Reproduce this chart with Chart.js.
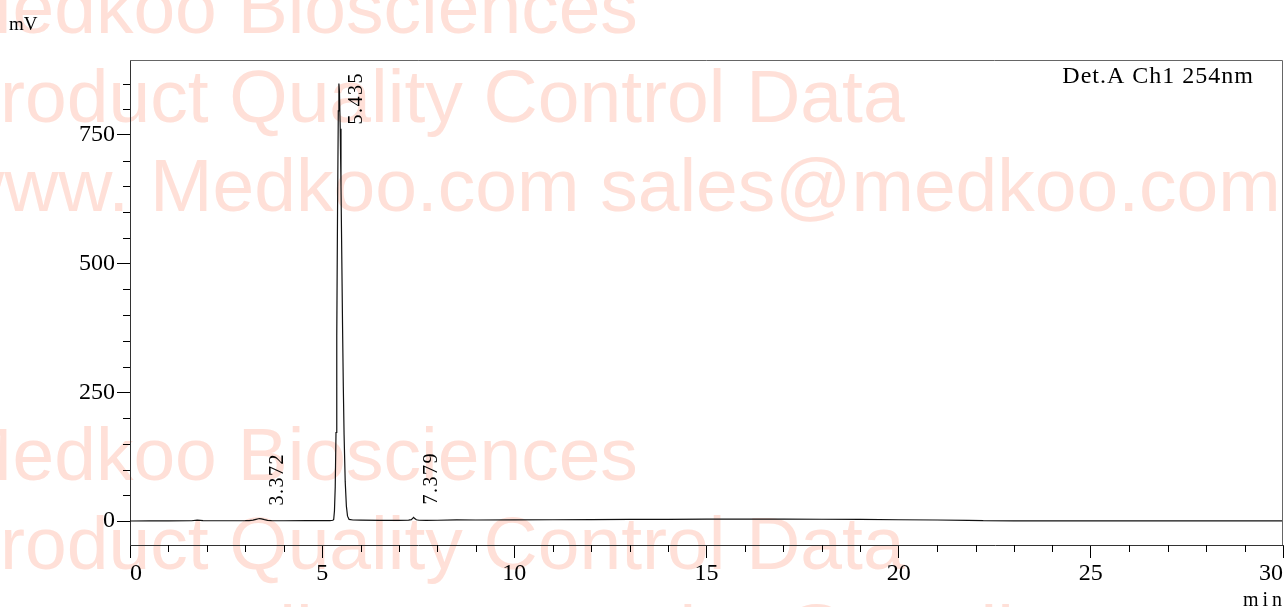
<!DOCTYPE html>
<html>
<head>
<meta charset="utf-8">
<title>Chromatogram</title>
<script src="https://cdn.jsdelivr.net/npm/chart.js@4.4.1/dist/chart.umd.min.js"></script>
<style>
html, body { margin: 0; padding: 0; background: #fff; overflow: hidden; }
canvas { display: block; }
</style>
</head>
<body>
<canvas id="chromChart" width="1285" height="607"></canvas>
<script>
// retention time (min) and detector signal (mV)
const timeMin = [
    0, 0.5, 1.0, 1.6, 1.75, 1.9, 2.5, 3.0,
    3.1, 3.2, 3.28, 3.34, 3.372, 3.42, 3.5, 3.58, 3.68,
    4.0, 4.6, 5.0, 5.2, 5.28, 5.30, 5.32, 5.34,
    5.36, 5.38, 5.40, 5.42, 5.435, 5.45, 5.47, 5.49,
    5.51, 5.53, 5.55, 5.57, 5.60, 5.63, 5.66, 5.70,
    5.80, 6.0, 6.5, 7.0,
    7.25, 7.32, 7.36, 7.379, 7.40, 7.45, 7.52, 7.7,
    8.0, 8.5, 9.0, 10, 11, 12, 13, 14,
    15, 16, 17, 18, 19, 20, 21, 21.8,
    22.2, 23, 25, 27, 30
];
const signalMv = [
    0, 0.2, 0.3, 0.5, 1.8, 0.6, 0.5, 0.6,
    0.9, 1.8, 3.3, 4.4, 4.8, 4.1, 2.6, 1.3, 0.7,
    0.5, 0.6, 0.7, 0.9, 1.5, 3, 20, 66,
    172, 360, 601, 797, 850, 833, 762, 650,
    516, 381, 262, 168, 76, 29, 9.4, 3.2,
    2.0, 1.6, 1.3, 1.3,
    1.6, 2.6, 5.6, 7, 5.4, 2.4, 1.5, 1.3,
    1.5, 2.2, 2.0, 2.2, 2.5, 2.8, 3.0, 3.3,
    3.5, 3.6, 3.6, 3.4, 3.0, 2.5, 2.0, 1.4,
    0.6, 0.4, 0.3, 0.3, 0.2
];

// labelled peaks (retention time, apex height)
const peakTimes = [3.372, 5.435, 7.379];
const peakHeights = [4.8, 850, 7];

const xTickValues = [0, 5, 10, 15, 20, 25, 30];
const yTickValues = [0, 250, 500, 750];

const watermarkLines = [
    'Medkoo Biosciences',
    'Product Quality Control Data',
    'www. Medkoo.com sales@medkoo.com'
];

const serif = "'Liberation Serif', 'Times New Roman', serif";

const paperPlugin = {
    id: 'paper',
    beforeDraw(chart) {
        const ctx = chart.ctx;
        ctx.save();
        ctx.fillStyle = '#fff';
        ctx.fillRect(0, 0, chart.width, chart.height);
        ctx.font = "75px 'Liberation Sans', Arial, sans-serif";
        ctx.fillStyle = 'rgb(255, 224, 216)';
        ctx.textAlign = 'left';
        ctx.textBaseline = 'alphabetic';
        [33, 480].forEach(y0 => {
            watermarkLines.forEach((line, i) => ctx.fillText(line, -50, y0 + 89 * i));
        });
        ctx.restore();
    },
    afterDatasetsDraw(chart) {
        const ctx = chart.ctx;
        const area = chart.chartArea;
        const xs = chart.scales.x;
        const ys = chart.scales.y;

        ctx.save();
        // top and right edges of the frame
        ctx.strokeStyle = '#666';
        ctx.lineWidth = 1;
        ctx.beginPath();
        ctx.moveTo(area.left, area.top + 0.5);
        ctx.lineTo(area.right - 0.5, area.top + 0.5);
        ctx.lineTo(area.right - 0.5, area.bottom);
        ctx.stroke();

        // minor ticks
        ctx.strokeStyle = '#000';
        ctx.beginPath();
        for (let t = xs.min; t <= xs.max; t += 1) {
            if (t % 5 === 0) continue;
            const px = Math.round(xs.getPixelForValue(t)) + 0.5;
            ctx.moveTo(px, area.bottom);
            ctx.lineTo(px, area.bottom + 7);
        }
        for (let v = 0; v <= ys.max; v += 50) {
            if (v % 250 === 0) continue;
            const py = Math.round(ys.getPixelForValue(v)) + 0.5;
            ctx.moveTo(area.left - 7, py);
            ctx.lineTo(area.left, py);
        }
        ctx.stroke();

        // retention time labels, rotated
        ctx.font = '20px ' + serif;
        ctx.letterSpacing = '1.5px';
        ctx.fillStyle = '#000';
        peakTimes.forEach((t, i) => {
            const label = t.toFixed(3);
            const w = ctx.measureText(label).width;
            const px = xs.getPixelForValue(t);
            const py = ys.getPixelForValue(peakHeights[i]);
            const start = Math.max(py - 13, area.top + 12 + w);
            ctx.save();
            ctx.translate(px + 23, start);
            ctx.rotate(-Math.PI / 2);
            ctx.textAlign = 'left';
            ctx.textBaseline = 'alphabetic';
            ctx.fillText(label, 0, 0);
            ctx.restore();
        });
        ctx.restore();
    },
    afterDraw(chart) {
        const ctx = chart.ctx;
        const area = chart.chartArea;
        ctx.save();
        ctx.fillStyle = '#000';
        ctx.textBaseline = 'alphabetic';

        ctx.font = '19px ' + serif;
        ctx.textAlign = 'left';
        ctx.fillText('mV', 9, 30);

        ctx.font = '24px ' + serif;
        ctx.letterSpacing = '1px';
        ctx.textAlign = 'right';
        ctx.fillText('Det.A Ch1 254nm', 1254, 83);

        ctx.font = '20px ' + serif;
        ctx.letterSpacing = '4px';
        ctx.fillText('min', area.right + 3, 606);
        ctx.restore();
    }
};

const chromChart = document.getElementById('chromChart').getContext('2d');
new Chart(chromChart, {
    type: 'line',
    data: {
        datasets: [{
            data: timeMin.map((t, i) => ({ x: t, y: signalMv[i] })),
            borderColor: '#111',
            borderWidth: 1.2,
            pointRadius: 0,
            tension: 0,
            fill: false
        }]
    },
    options: {
        responsive: false,
        devicePixelRatio: 1,
        animation: false,
        layout: {
            padding: { top: 60, right: 2, left: 0, bottom: 0 }
        },
        plugins: {
            legend: { display: false },
            tooltip: { enabled: false }
        },
        scales: {
            x: {
                type: 'linear',
                min: 0,
                max: 30,
                afterBuildTicks: scale => {
                    scale.ticks = xTickValues.map(v => ({ value: v }));
                },
                afterFit: scale => { scale.height = 62; },
                grid: {
                    drawOnChartArea: false,
                    tickLength: 13,
                    tickColor: '#000'
                },
                border: { color: '#333' },
                ticks: {
                    color: '#000',
                    align: 'inner',
                    autoSkip: false,
                    maxRotation: 0,
                    padding: 1,
                    font: { family: serif, size: 24 }
                }
            },
            y: {
                min: -46.6,
                max: 895.7,
                afterBuildTicks: scale => {
                    scale.ticks = yTickValues.map(v => ({ value: v }));
                },
                afterFit: scale => { scale.width = 130; },
                grid: {
                    drawOnChartArea: false,
                    tickLength: 13,
                    tickColor: '#000'
                },
                border: { color: '#333' },
                ticks: {
                    color: '#000',
                    padding: 2,
                    font: { family: serif, size: 24 }
                }
            }
        }
    },
    plugins: [paperPlugin]
});
</script>
</body>
</html>
